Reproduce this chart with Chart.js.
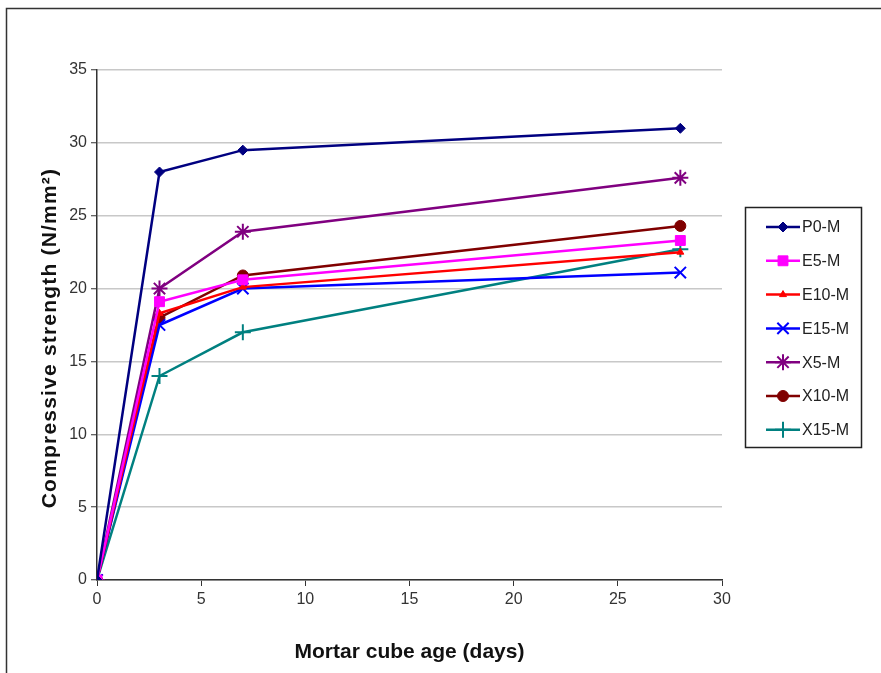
<!DOCTYPE html>
<html lang="en">
<head>
<meta charset="UTF-8">
<title>Compressive strength vs mortar cube age</title>
<script src="https://cdn.jsdelivr.net/npm/chart.js@4/dist/chart.umd.min.js"></script>
<style>
  * { box-sizing: border-box; margin: 0; padding: 0; }
  body { background: #fff; width: 881px; height: 673px; overflow: hidden; }
  #wrap { position: relative; width: 881px; height: 673px; }
</style>
</head>
<body>
<div id="wrap"><canvas id="chart" width="881" height="673"></canvas></div>
<script>
// age in days
const ages = [0, 3, 7, 28]

// compressive strength (N/mm2)
const p0m  = [0, 28.0, 29.5, 31.0]
const e5m  = [0, 19.1, 20.6, 23.3]
const e10m = [0, 18.3, 20.1, 22.5]
const e15m = [0, 17.5, 20.0, 21.1]
const x5m  = [0, 20.0, 23.9, 27.6]
const x10m = [0, 18.0, 20.9, 24.3]
const x15m = [0, 14.0, 17.0, 22.7]

const seriesNames = ['P0-M', 'E5-M', 'E10-M', 'E15-M', 'X5-M', 'X10-M', 'X15-M']
const seriesValues = [p0m, e5m, e10m, e15m, x5m, x10m, x15m]
const seriesColors = ['#000080', '#ff00ff', '#ff0000', '#0000ff', '#800080', '#800000', '#008080']
const seriesMarkers = ['rectRot', 'rect', 'triangle', 'crossRot', 'star', 'circle', 'cross']
const markerSizes = [5, 7, 4, 8, 8, 5.5, 8]

const xTicks = [0, 5, 10, 15, 20, 25, 30]
const yTicks = [0, 5, 10, 15, 20, 25, 30, 35]

const tickFont = { family: "Arial, 'Liberation Sans', sans-serif", size: 16 }

const datasets = seriesValues.map((vals, i) => ({
  label: seriesNames[i],
  data: vals.map((v, j) => ({ x: ages[j], y: v })),
  showLine: true,
  borderColor: seriesColors[i],
  backgroundColor: seriesColors[i],
  borderWidth: 2.5,
  pointStyle: seriesMarkers[i],
  pointRadius: markerSizes[i],
  pointBorderWidth: ['crossRot', 'star', 'cross'].includes(seriesMarkers[i]) ? 2 : 1,
  tension: 0,
  fill: false
}))

// frame around the figure, y title and legend box
const frameAndLegend = {
  id: 'frameAndLegend',
  beforeDraw(chart) {
    const c = chart.ctx
    c.save()
    c.fillStyle = '#fff'
    c.fillRect(0, 0, chart.width, chart.height)
    c.strokeStyle = '#333'
    c.lineWidth = 1.5
    c.beginPath()
    c.moveTo(6.5, 673)
    c.lineTo(6.5, 8.5)
    c.lineTo(881, 8.5)
    c.stroke()
    c.restore()
  },
  afterDraw(chart) {
    const c = chart.ctx
    c.save()
    // y axis title
    c.translate(50, 338)
    c.rotate(-Math.PI / 2)
    c.font = "bold 21px Arial, 'Liberation Sans', sans-serif"
    c.letterSpacing = '1.2px'
    c.fillStyle = '#111'
    c.textAlign = 'center'
    c.textBaseline = 'middle'
    c.fillText('Compressive strength (N/mm²)', 0, 0)
    c.restore()

    c.save()
    c.strokeStyle = '#222'
    c.lineWidth = 1.5
    c.strokeRect(745.5, 207.5, 116, 240)
    c.font = "16px Arial, 'Liberation Sans', sans-serif"
    c.textBaseline = 'middle'
    seriesNames.forEach((name, i) => {
      const y = 227 + i * 33.8
      c.strokeStyle = seriesColors[i]
      c.fillStyle = seriesColors[i]
      c.lineWidth = 2.5
      c.beginPath()
      c.moveTo(766, y)
      c.lineTo(800, y)
      c.stroke()
      const ds = chart.data.datasets[i]
      c.lineWidth = ds.pointBorderWidth
      Chart.helpers.drawPoint(c, {
        pointStyle: ds.pointStyle,
        radius: ds.pointRadius,
        borderWidth: ds.pointBorderWidth,
        rotation: 0
      }, 783, y)
      c.fillStyle = '#222'
      c.fillText(name, 802, y + 1)
    })
    c.restore()
  }
}

new Chart(document.getElementById('chart'), {
  type: 'scatter',
  data: { datasets },
  options: {
    responsive: false,
    animation: false,
    layout: { padding: { left: 30, top: 70, right: 159, bottom: 4 } },
    plugins: {
      legend: { display: false },
      tooltip: { enabled: false }
    },
    scales: {
      x: {
        type: 'linear',
        min: 0, max: 30,
        afterBuildTicks(scale) { scale.ticks = xTicks.map(v => ({ value: v })) },
        afterFit(scale) { scale.height = 673 - 580 - 4 },
        grid: { drawOnChartArea: false, color: '#333', tickLength: 6, tickWidth: 1 },
        border: { color: '#333', width: 1.5 },
        ticks: { color: '#333', font: tickFont, padding: 4 },
        title: {
          display: true,
          text: 'Mortar cube age (days)',
          color: '#111',
          font: { family: "Arial, 'Liberation Sans', sans-serif", size: 21, weight: 'bold' },
          padding: { top: 6 }
        }
      },
      y: {
        type: 'linear',
        min: 0, max: 35,
        afterBuildTicks(scale) { scale.ticks = yTicks.map(v => ({ value: v })) },
        afterFit(scale) { scale.width = 97 - 30 },
        grid: { color: '#c8c8c8', lineWidth: 1.5, tickColor: '#333', tickLength: 6, tickWidth: 1 },
        border: { color: '#333', width: 1.5 },
        ticks: { color: '#333', font: tickFont, padding: 4 }
      }
    }
  },
  plugins: [frameAndLegend]
})
</script>
</body>
</html>
